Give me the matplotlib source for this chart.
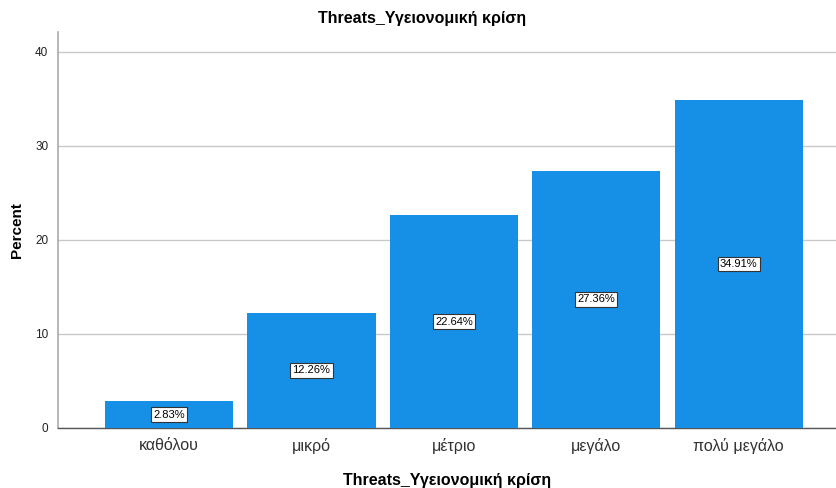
import matplotlib
matplotlib.use("Agg")
import matplotlib.pyplot as plt

categories = ["καθόλου", "μικρό", "μέτριο", "μεγάλο", "πολύ μεγάλο"]
percents = [2.83, 12.26, 22.64, 27.36, 34.91]
yticks = [0, 10, 20, 30, 40]

plt.rcParams['font.family'] = ['Liberation Sans', 'DejaVu Sans']

fig = plt.figure(figsize=(8.37, 4.88), dpi=100)
ax = fig.add_axes([58/837, 60/488, 1 - 58/837, (428-32)/488])

x = list(range(len(categories)))
bars = ax.bar(x, percents, width=0.9, color='#1590E6', zorder=3)
for xi, v in zip(x, percents):
    ax.text(xi, v/2, f"{v:.2f}%", ha='center', va='center', fontsize=8, zorder=4,
            bbox=dict(boxstyle='square,pad=0.2', facecolor='white', edgecolor='#333333', linewidth=0.8))

ax.set_xlim(-0.78, 4.69)
ax.set_ylim(0, 42.1)
ax.set_yticks(yticks)
ax.set_xticks(x)
ax.set_xticklabels(categories, fontsize=11.5, color='#333333')
ax.tick_params(axis='x', length=0, pad=7)
ax.tick_params(axis='y', length=0, pad=7, labelsize=8.5, labelcolor='#222222')
ax.yaxis.grid(True, color='#c8c8c8', linewidth=1, zorder=0)
for s in ['top', 'right']:
    ax.spines[s].set_visible(False)
ax.spines['left'].set_color('#aaaaaa')
ax.spines['left'].set_linewidth(1.2)
ax.spines['bottom'].set_color('#555555')
ax.spines['bottom'].set_linewidth(1)

ax.set_ylabel("Percent", fontsize=11, fontweight='bold', labelpad=8)
ax.set_xlabel("Threats_Υγειονομική κρίση", fontsize=11.5, fontweight='bold', labelpad=14)
fig.text(422/837, 1 - 18/488, "Threats_Υγειονομική κρίση", ha='center', va='center',
         fontsize=11.5, fontweight='bold')

fig.savefig("out.png", dpi=100)
